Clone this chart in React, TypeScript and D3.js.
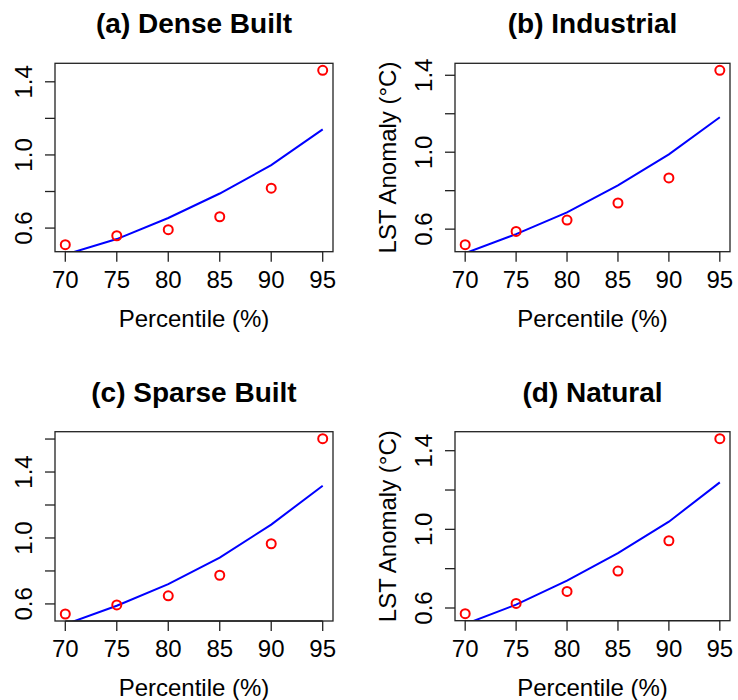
import React from 'react';
import * as d3 from 'd3';

// percentile levels on the x axis
const percentiles = [70, 75, 80, 85, 90, 95];

// observed anomalies (red circles) and fitted curve (blue line), per land class
const denseObs = [0.509, 0.558, 0.591, 0.662, 0.818, 1.463];
const denseFit = [0.455, 0.54, 0.655, 0.789, 0.944, 1.14];

const industrialObs = [0.519, 0.588, 0.647, 0.736, 0.866, 1.426];
const industrialFit = [0.475, 0.574, 0.687, 0.828, 0.989, 1.182];

const sparseObs = [0.539, 0.594, 0.649, 0.774, 0.965, 1.602];
const sparseFit = [0.476, 0.589, 0.72, 0.881, 1.081, 1.317];

const naturalObs = [0.571, 0.623, 0.684, 0.788, 0.942, 1.461];
const naturalFit = [0.518, 0.617, 0.739, 0.879, 1.039, 1.239];

const titles = ['(a) Dense Built', '(b) Industrial', '(c) Sparse Built', '(d) Natural'];
const xLabel = 'Percentile (%)';
const yLabel = 'LST Anomaly (°C)';

const font = '"Liberation Sans", Arial, sans-serif';

// R-style 4% axis padding
const padRange = (vals) => {
    const [lo, hi] = d3.extent(vals);
    const p = (hi - lo) * 0.04;
    return [lo - p, hi + p];
};

function Panel({ id, title, obs, fit, box, showYLabel }) {
    const { left, right, top, bottom } = box;

    const x = d3.scaleLinear().domain(padRange(percentiles)).range([left, right]);
    const y = d3.scaleLinear().domain(padRange(obs)).range([bottom, top]);

    const [y0, y1] = y.domain();
    const yTicks = d3.range(0.6, 2.0, 0.2)
        .map(v => Math.round(v * 10) / 10)
        .filter(v => v >= y0 && v <= y1);

    const line = d3.line()
        .x((d, i) => x(percentiles[i]))
        .y(d => y(d));

    const midY = (top + bottom) / 2;
    const midX = (left + right) / 2;

    return (
        <g>
            <defs>
                <clipPath id={'clip-' + id}>
                    <rect x={left} y={top} width={right - left} height={bottom - top} />
                </clipPath>
            </defs>

            <text x={midX} y={top - 30} textAnchor="middle" fontFamily={font}
                fontWeight="bold" fontSize={28} fill="#000">{title}</text>

            <path d={line(fit)} fill="none" stroke="#0000ff" strokeWidth={2}
                clipPath={'url(#clip-' + id + ')'} />

            {obs.map((v, i) => (
                <circle key={i} cx={x(percentiles[i])} cy={y(v)} r={4.5}
                    fill="none" stroke="#ff0000" strokeWidth={2} />
            ))}

            <rect x={left} y={top} width={right - left} height={bottom - top}
                fill="none" stroke="#222" strokeWidth={1.3} />

            {/* x axis */}
            {percentiles.map(p => (
                <g key={p}>
                    <line x1={x(p)} x2={x(p)} y1={bottom} y2={bottom + 10} stroke="#222" strokeWidth={1.3} />
                    <text x={x(p)} y={bottom + 36} textAnchor="middle" fontFamily={font}
                        fontSize={24} fill="#000">{p}</text>
                </g>
            ))}
            <line x1={x(70)} x2={x(95)} y1={bottom} y2={bottom} stroke="#222" strokeWidth={1.3} />
            <text x={midX} y={bottom + 75} textAnchor="middle" fontFamily={font}
                fontSize={24} fill="#000">{xLabel}</text>

            {/* y axis */}
            {yTicks.map((t, i) => (
                <g key={t}>
                    <line x1={left - 10} x2={left} y1={y(t)} y2={y(t)} stroke="#222" strokeWidth={1.3} />
                    {i % 2 === 0 && (
                        <text transform={`translate(${left - 23},${y(t)}) rotate(-90)`}
                            textAnchor="middle" fontFamily={font} fontSize={24} fill="#000">
                            {t.toFixed(1)}
                        </text>
                    )}
                </g>
            ))}
            {showYLabel && (
                <text transform={`translate(${left - 59},${midY}) rotate(-90)`}
                    textAnchor="middle" fontFamily={font} fontSize={24} fill="#000">{yLabel}</text>
            )}
        </g>
    );
}

export default function App() {
    const panels = [
        { obs: denseObs, fit: denseFit, box: { left: 55, right: 333, top: 63.3, bottom: 251.7 }, showYLabel: false },
        { obs: industrialObs, fit: industrialFit, box: { left: 455, right: 730, top: 63.3, bottom: 251.7 }, showYLabel: true },
        { obs: sparseObs, fit: sparseFit, box: { left: 55, right: 333, top: 431.7, bottom: 621 }, showYLabel: false },
        { obs: naturalObs, fit: naturalFit, box: { left: 455, right: 730, top: 431.7, bottom: 620.7 }, showYLabel: true },
    ];

    return (
        <div style={{ position: 'absolute', left: 0, top: 0 }}>
            <svg width={738} height={700} style={{ display: 'block', background: '#fff' }}>
                {panels.map((p, i) => (
                    <Panel key={i} id={i} title={titles[i]} {...p} />
                ))}
            </svg>
        </div>
    );
}
